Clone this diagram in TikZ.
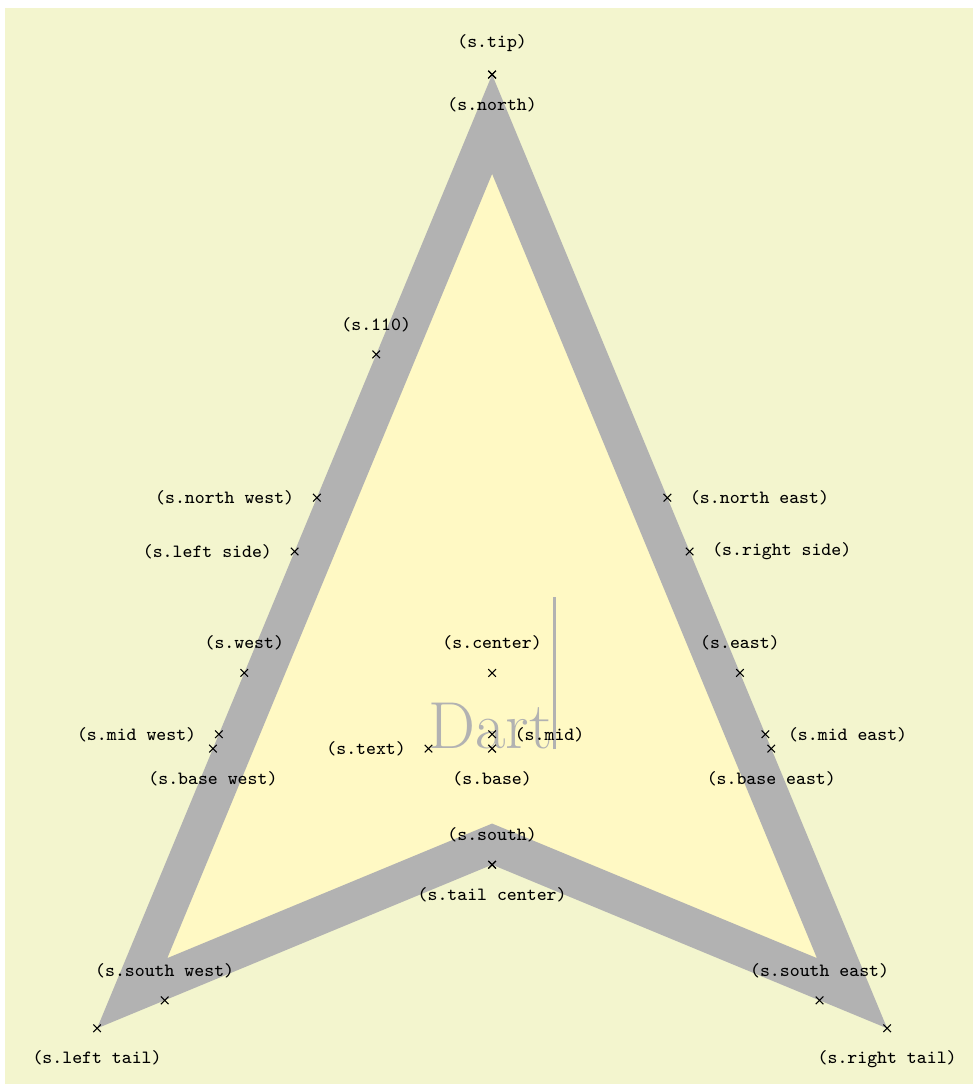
\documentclass[tikz,border=0pt]{standalone}
\usetikzlibrary{shapes.geometric}
\definecolor{bgc}{RGB}{243,245,206}
\definecolor{dartfill}{RGB}{255,249,196}
\tikzset{
  shape example/.style={color=black!30, draw, fill=dartfill, line width=.5cm, inner xsep=1.22cm, inner ysep=1.25cm},
  lbl/.style={font=\scriptsize\ttfamily, text=black}
}
\begin{document}
\begin{tikzpicture}
  \Huge
  \coordinate (otl) at (-6.476,8.855);
  \coordinate (tl) at (-6.41,8.75);
  \coordinate (br) at (6.33,-5.41);
  \useasboundingbox (otl) rectangle (br);
  \fill[white] (otl) rectangle (br);
  \fill[bgc] (tl) rectangle (br);
  \node[name=s,shape=dart,shape border rotate=90,shape example] at (0,0) {Dart\vrule width 1pt height 2cm};
  \foreach \anchor/\placement in
    {text/left, tip/above, tail center/below, left tail/below, right tail/below,
     left side/left, right side/right, mid/right, mid east/right, mid west/left,
     base/below, base east/below, base west/below, center/above, north/below,
     south/above, east/above, west/above, north east/right, north west/left,
     south east/above, south west/above, 110/above}
    \draw[shift=(s.\anchor)] plot[mark=x] coordinates{(0,0)}
      node[\placement,lbl] {(s.\anchor)};
\end{tikzpicture}
\end{document}
